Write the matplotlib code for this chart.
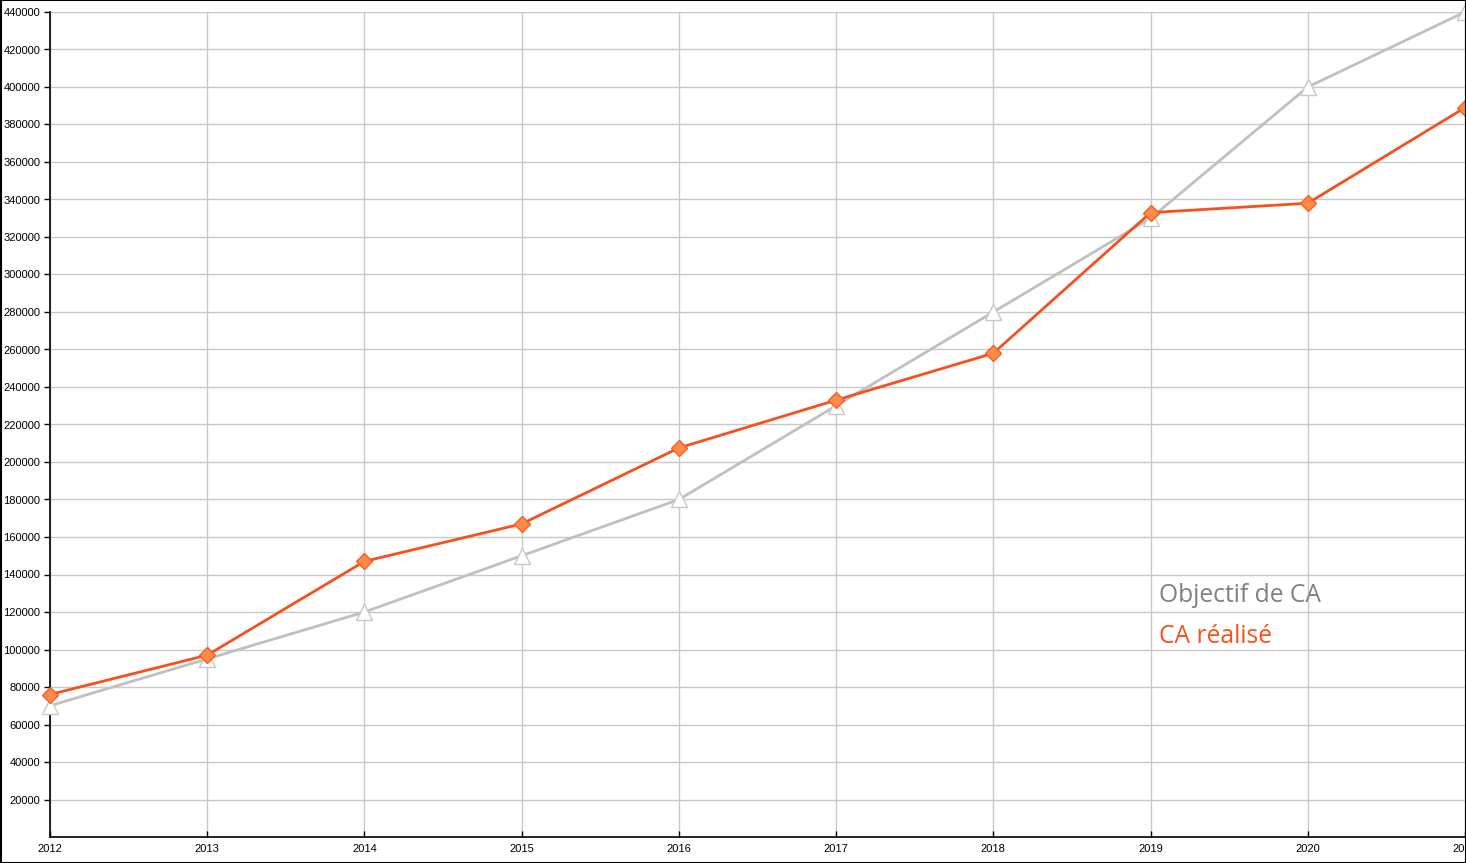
import matplotlib.pyplot as plt
from matplotlib.patches import Rectangle

# données
annees = [2012, 2013, 2014, 2015, 2016, 2017, 2018, 2019, 2020, 2021]
objectif_ca = [70000, 95000, 120000, 150000, 180000, 230000, 280000, 330000, 400000, 440000]
ca_realise = [76000, 97000, 147000, 167000, 207500, 233000, 258000, 333000, 338000, 389000]
y_ticks = list(range(20000, 440001, 20000))

W, H = 1466, 863
fig = plt.figure(figsize=(W / 100, H / 100), dpi=100)
ax = fig.add_axes([50 / W, (H - 837) / H, (1465 - 50) / W, (837 - 12) / H])

# courbes
ax.plot(annees, objectif_ca, color='#c0c0c0', lw=2, marker='^', ms=11,
        mfc='white', mec='#c8c8c8', mew=1, clip_on=False, zorder=3)
ax.plot(annees, ca_realise, color='#f4511e', lw=2, marker='D', ms=8,
        mfc='#ff8a4c', mec='#f4601e', mew=1, clip_on=False, zorder=4)

ax.set_xlim(2012, 2021)
ax.set_ylim(0, 440000)
ax.set_xticks(annees)
ax.set_xticklabels([str(a) for a in annees], fontsize=8, family='Liberation Sans')
ax.set_yticks(y_ticks)
ax.set_yticklabels([str(v) for v in y_ticks], fontsize=8, family='Liberation Sans')
ax.tick_params(axis='y', direction='out', length=4, width=1, pad=3)
ax.tick_params(axis='x', direction='in', length=4, width=1, pad=5)

ax.grid(True, color='#c8c8c8', lw=1)
ax.set_axisbelow(True)
for s in ['top', 'right']:
    ax.spines[s].set_visible(False)
for s in ['left', 'bottom']:
    ax.spines[s].set_linewidth(1.2)

# légende en texte
ax.text(1159 / W, 1 - 595 / H, 'Objectif de CA', transform=fig.transFigure,
        color='#808080', fontsize=17.7, family='Open Sans', va='center', ha='left')
ax.text(1159 / W, 1 - 636 / H, 'CA réalisé', transform=fig.transFigure,
        color='#f4511e', fontsize=17.7, family='Open Sans', va='center', ha='left')

# cadre
fig.patches.append(Rectangle((0.5 / W, 0.5 / H), 1 - 1 / W, 1 - 1 / H, transform=fig.transFigure,
                             fill=False, edgecolor='black', lw=1.5, zorder=10))

fig.savefig('out.png', dpi=100)
